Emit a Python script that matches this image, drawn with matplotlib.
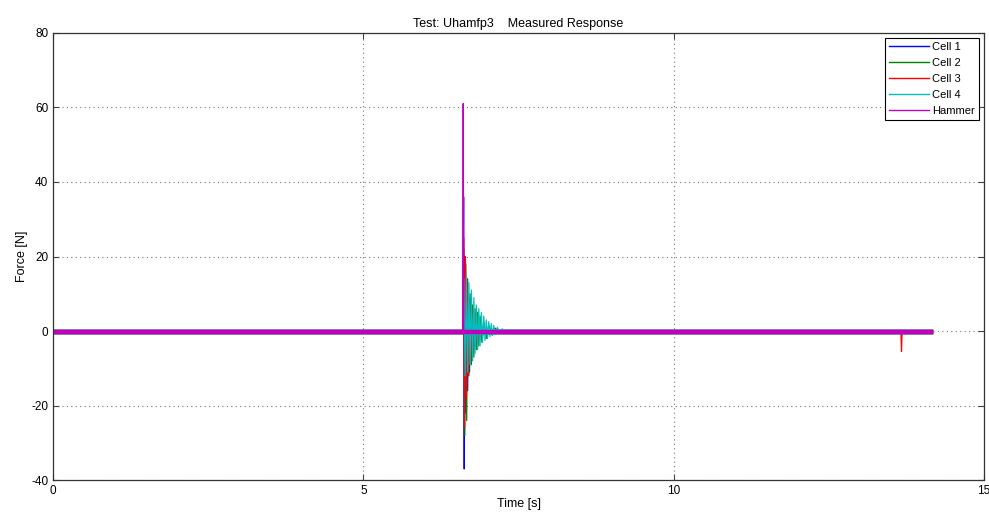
import matplotlib
matplotlib.use("Agg")
import matplotlib.pyplot as plt
from matplotlib.lines import Line2D

# time axis end points of the record
t_start = 0.0
t_end = 14.15

# Cell 1 (blue) - impact transient samples
cell1_t = [6.605, 6.615, 6.625, 6.635, 6.65, 6.665, 6.68, 6.695, 6.71, 6.73, 6.75, 6.77, 6.80, 6.83, 6.87, 6.92, 6.97]
cell1_v = [0, 36, -37, 20, -22, 12, -16, 8, -11, 5, -7, 3, -4, 2, -2, 1, 0]

# Cell 2 (green)
cell2_t = [6.605, 6.62, 6.635, 6.65, 6.665, 6.68, 6.70, 6.72, 6.74, 6.76, 6.78, 6.80, 6.82, 6.84, 6.86, 6.88, 6.91, 6.94, 6.98, 7.02, 7.07, 7.12, 7.22, 7.32]
cell2_v = [0, 22, -28, 18, -24, 14, -12, 10, -9, 7, -7, 6, -5, 5, -4, 4, -3, 2.5, -2, 1.5, -1, 0.8, -0.4, 0]

# Cell 3 (red), plus the small dip near the end of the record
cell3_t = [6.605, 6.615, 6.63, 6.645, 6.66, 6.675, 6.69, 6.71, 6.73, 6.75, 6.77, 6.80, 6.83, 6.87, 6.92, 6.97]
cell3_v = [0, 25, -26, 20, -18, 14, -12, 9, -8, 6, -5, 3, -3, 1.5, -1, 0]
cell3_dip_t = [13.66, 13.67, 13.68]
cell3_dip_v = [0, -5.5, 0]

# Cell 4 (cyan)
cell4_t = [6.605, 6.62, 6.64, 6.66, 6.68, 6.70, 6.72, 6.74, 6.76, 6.78, 6.80, 6.82, 6.84, 6.86, 6.88,
           6.90, 6.92, 6.94, 6.96, 6.98, 7.00, 7.02, 7.04, 7.06, 7.08, 7.10, 7.12, 7.16, 7.20, 7.24, 7.28, 7.32, 7.42]
cell4_v = [0, 14, -12, 15, -11, 13, -9, 11, -8, 9, -6, 7, -5, 6, -4,
           5, -3, 4, -2.5, 3, -2, 2.5, -1.5, 2, -1.2, 1.5, -1, 1, -0.6, 0.6, -0.3, 0.3, 0]

# Hammer (magenta)
hammer_t = [6.605, 6.61, 6.615]
hammer_v = [0, 61, 0]

series = [
    ("Cell 1", (0, 0, 1), cell1_t, cell1_v),
    ("Cell 2", (0, 0.5, 0), cell2_t, cell2_v),
    ("Cell 3", (1, 0, 0), cell3_t, cell3_v),
    ("Cell 4", (0, 0.75, 0.75), cell4_t, cell4_v),
    ("Hammer", (0.75, 0, 0.75), hammer_t, hammer_v),
]

plt.rcParams["font.family"] = ["Liberation Sans", "DejaVu Sans"]
plt.rcParams["axes.unicode_minus"] = False
fig = plt.figure(figsize=(9.89, 5.13), dpi=100)
ax = fig.add_axes([0.0536, 0.064, 0.9414, 0.872])

handles = []
for name, col, t, v in series:
    tt = [t_start] + list(t) + [t_end]
    vv = [0.0] + list(v) + [0.0]
    ax.plot(tt, vv, color=col, lw=0.9)
    # noisy baseline looks like a thick band
    ax.plot([t_start, t_end], [-0.2, -0.2], color=col, lw=3.2)
    if name == "Cell 3":
        ax.plot(cell3_dip_t, cell3_dip_v, color=col, lw=0.9)
    handles.append(Line2D([], [], color=col, lw=1.0, label=name))

# hammer spike drawn on top again
ax.plot(hammer_t, hammer_v, color=(0.75, 0, 0.75), lw=0.9)

ax.set_xlim(0, 15)
ax.set_ylim(-40, 80)
ax.set_xticks([0, 5, 10, 15])
ax.set_yticks([-40, -20, 0, 20, 40, 60, 80])
ax.grid(True, linestyle=(0, (1, 3)), color="#777777", lw=0.8)
ax.tick_params(direction="in", top=True, right=True, labelsize=8.5, length=4, color="#444444")
for s in ax.spines.values():
    s.set_color("#333333")
    s.set_linewidth(0.9)

ax.set_xlabel("Time [s]", fontsize=9, labelpad=1)
ax.set_ylabel("Force [N]", fontsize=9, labelpad=2)
ax.set_title("Test: Uhamfp3    Measured Response", fontsize=9, pad=4)

leg = ax.legend(handles=handles, loc="upper right", fontsize=8, fancybox=False,
                framealpha=1, edgecolor="black", handlelength=3.6, handletextpad=0.3,
                labelspacing=0.55, borderpad=0.35, borderaxespad=0.45)
leg.get_frame().set_linewidth(0.8)

fig.savefig("out.png", dpi=100)
